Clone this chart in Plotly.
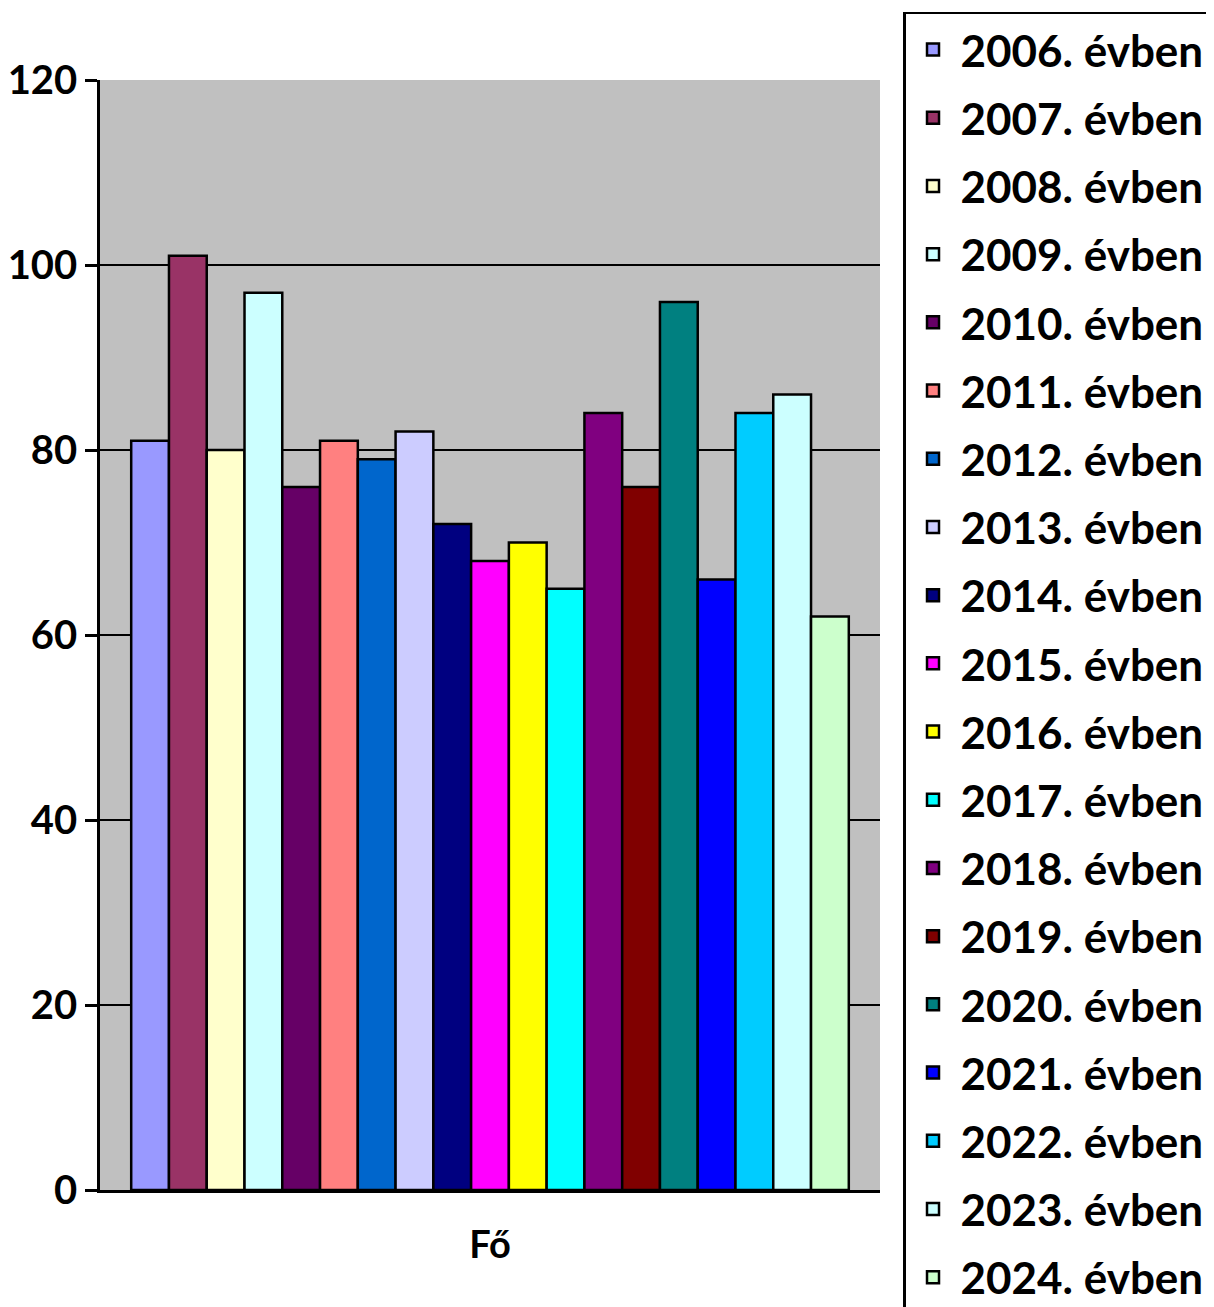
import plotly.graph_objects as go

categories = ["Fő"]
years = ["2006", "2007", "2008", "2009", "2010", "2011", "2012", "2013", "2014", "2015",
         "2016", "2017", "2018", "2019", "2020", "2021", "2022", "2023", "2024"]
values = [81, 101, 80, 97, 76, 81, 79, 82, 72, 68, 70, 65, 84, 76, 96, 66, 84, 86, 62]
colors = ["#9999FF", "#993366", "#FFFFCC", "#CCFFFF", "#660066", "#FF8080", "#0066CC",
          "#CCCCFF", "#000080", "#FF00FF", "#FFFF00", "#00FFFF", "#800080", "#800000",
          "#008080", "#0000FF", "#00CCFF", "#CCFFFF", "#CCFFCC"]
y_ticks = [0, 20, 40, 60, 80, 100, 120]

FONT = "Lato"

fig = go.Figure()
for yr, v, c in zip(years, values, colors):
    fig.add_trace(go.Bar(
        x=categories, y=[v], name=f"{yr}. évben",
        marker=dict(color=c, line=dict(color="black", width=2.5)),
        legendgroup=yr,
    ))

fig.update_layout(
    width=1214, height=1307,
    barmode="group", bargap=0.08, bargroupgap=0,
    paper_bgcolor="white", plot_bgcolor="#C0C0C0",
    margin=dict(l=92, r=342, t=72, b=125, autoexpand=False),
    font=dict(family=FONT, color="black"),
    showlegend=True,
    legend=dict(
        x=1.0295, y=1.0613, xanchor="left", yanchor="top",
        bgcolor="white", bordercolor="black", borderwidth=2.5,
        font=dict(family=FONT, size=44, color="black", weight="bold"),
        tracegroupgap=8, traceorder="grouped", maxheight=1500,
        itemwidth=45,
    ),
    xaxis=dict(
        showline=True, linecolor="black", linewidth=2.5,
        tickfont=dict(family=FONT, size=38, weight="bold"),
        ticks="", ticklabelstandoff=20, automargin=False,
    ),
    yaxis=dict(
        range=[0, 120], tickvals=y_ticks,
        showgrid=True, gridcolor="black", gridwidth=2,
        showline=True, linecolor="black", linewidth=2.5,
        ticks="outside", ticklen=12, tickwidth=2.5, tickcolor="black",
        tickfont=dict(family=FONT, size=40, weight="bold"),
        zeroline=False, automargin=False,
    ),
)

fig.write_html("out.html")
